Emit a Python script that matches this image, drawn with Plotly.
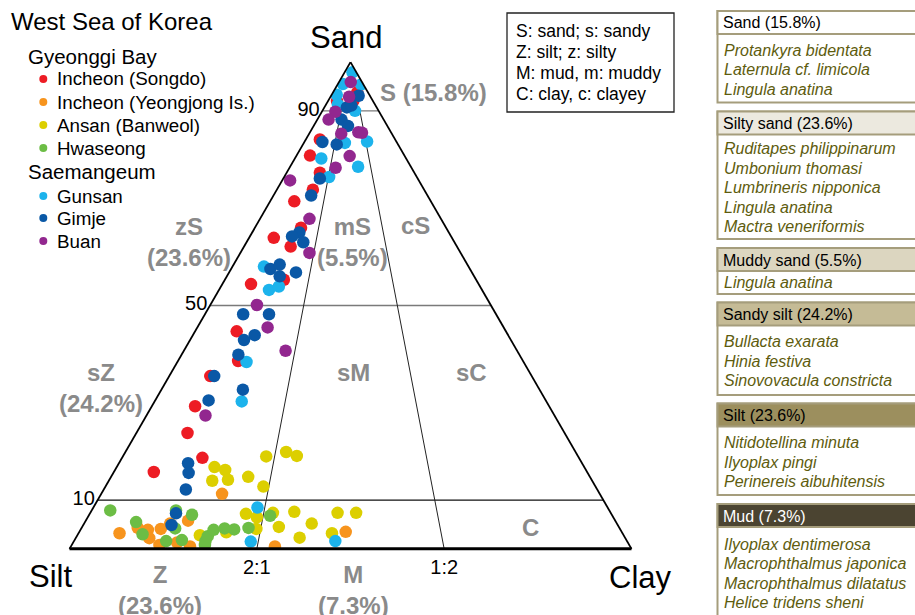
import plotly.graph_objects as go

FIG_W, FIG_H = 915, 615

# ---------------- data: sediment composition (%) ----------------
SITE_NAMES = ["Incheon (Songdo)", "Incheon (Yeongjong Is.)", "Ansan (Banweol)", "Hwaseong",
              "Gunsan", "Gimje", "Buan"]
SITE_COLORS = ["#ed1c24", "#f7941d", "#dccf00", "#6cbd45", "#1cb3ec", "#0a58a6", "#92278f"]
GROUP_NAMES = ["Gyeonggi Bay", "Saemangeum"]
GROUP_SIZES = [4, 3]

songdo_sand = [93.8, 92.0, 92.0, 84.1, 80.8, 77.3, 73.8, 71.4, 66.0, 63.9, 62.1, 55.3, 54.4, 44.7, 38.6, 35.5, 29.3, 23.8, 18.7, 15.8]
songdo_silt = [1.9, 6.4, 3.5, 13.4, 16.8, 16.8, 19.8, 24.3, 25.8, 31.7, 29.6, 34.2, 40.5, 47.9, 50.7, 57.2, 63.0, 67.1, 67.0, 77.1]
songdo_clay = [4.3, 1.6, 4.5, 2.5, 2.4, 5.9, 6.4, 4.3, 8.2, 4.4, 8.3, 10.5, 5.1, 7.4, 10.7, 7.3, 7.7, 9.1, 14.3, 7.1]

yeongjong_sand = [11.3, 3.2, 4.3, 3.9, 2.2, 4.1, 0.8, 5.2, 1.3, 5.8, 0.5, 0.5, 3.5]
yeongjong_silt = [67.2, 89.5, 85.7, 84.1, 84.7, 81.7, 83.6, 79.5, 80.2, 76.0, 78.3, 63.2, 49.1]
yeongjong_clay = [21.5, 7.3, 10.0, 12.0, 13.1, 14.2, 15.6, 15.3, 18.5, 18.2, 21.2, 36.3, 47.4]

ansan_sand = [16.8, 16.2, 14.0, 14.2, 14.8, 12.8, 19.0, 19.9, 19.1, 2.8, 3.4, 7.2, 6.5, 4.1, 7.4, 4.5, 7.6, 2.3, 5.2, 7.4, 7.4, 3.2]
ansan_silt = [65.8, 64.2, 67.6, 64.7, 60.8, 59.1, 55.5, 51.5, 50.0, 75.4, 70.4, 65.0, 63.4, 64.7, 60.1, 60.5, 56.2, 57.9, 54.3, 48.6, 45.3, 51.7]
ansan_clay = [17.4, 19.6, 18.4, 21.1, 24.4, 28.1, 25.5, 28.6, 30.9, 21.8, 26.2, 27.8, 30.1, 31.2, 32.5, 35.0, 36.2, 39.8, 40.5, 44.0, 47.3, 45.1]

hwaseong_sand = [7.9, 5.5, 3.0, 1.6, 7.9, 4.2, 1.8, 7.0, 1.6, 0.8, 2.6, 3.9, 4.2, 4.0, 4.3, 6.8]
hwaseong_silt = [88.8, 85.4, 85.5, 82.0, 77.1, 79.1, 79.1, 74.7, 75.0, 75.5, 74.1, 72.4, 70.3, 68.7, 66.0, 60.9]
hwaseong_clay = [3.3, 9.1, 11.5, 16.4, 15.0, 16.7, 19.1, 18.3, 23.4, 23.7, 23.3, 23.7, 25.5, 27.3, 29.7, 32.3]

gunsan_sand = [97.9, 95.5, 95.4, 93.3, 91.3, 90.0, 83.7, 83.4, 80.2, 78.5, 76.4, 58.0, 53.2, 53.9, 38.4, 30.3, 8.5, 1.5, 1.6]
gunsan_silt = [0.7, 3.6, 0.4, 5.8, 6.6, 4.2, 5.2, 9.3, 15.1, 9.4, 15.6, 36.4, 37.9, 35.8, 49.3, 54.2, 62.3, 67.0, 51.9]
gunsan_clay = [1.4, 0.9, 4.2, 0.9, 2.1, 5.8, 11.1, 7.3, 4.7, 12.1, 8.0, 5.6, 8.9, 10.3, 12.3, 15.5, 29.2, 31.5, 46.5]

gimje_sand = [93.1, 90.7, 91.1, 88.2, 86.9, 83.1, 83.6, 76.1, 72.6, 65.0, 64.2, 63.0, 57.5, 58.4, 56.0, 56.8, 48.2, 48.2, 43.9, 42.9, 39.9, 35.5, 32.7, 30.5, 17.6, 15.6, 12.2, 7.3, 4.9]
gimje_silt = [2.0, 5.3, 4.3, 7.5, 7.0, 10.9, 13.2, 17.4, 20.7, 26.6, 28.3, 26.9, 35.5, 33.4, 34.6, 31.3, 45.0, 40.4, 45.1, 47.5, 50.0, 56.5, 52.8, 60.0, 70.1, 71.0, 73.2, 77.4, 79.4]
gimje_clay = [4.9, 4.0, 4.6, 4.3, 6.1, 6.0, 3.2, 6.5, 6.7, 8.4, 7.5, 10.1, 7.0, 8.2, 9.4, 11.9, 6.8, 11.4, 11.0, 9.6, 10.1, 8.0, 14.5, 9.5, 12.3, 13.4, 14.6, 15.3, 15.7]

buan_sand = [95.9, 92.9, 89.8, 88.2, 85.6, 85.5, 85.3, 80.7, 78.3, 75.7, 67.8, 60.8, 50.1, 45.5, 40.7, 27.4]
buan_silt = [2.0, 3.8, 7.8, 9.8, 5.8, 5.2, 9.0, 9.8, 13.5, 22.9, 23.4, 26.9, 41.6, 42.0, 41.2, 62.1]
buan_clay = [2.1, 3.3, 2.4, 2.0, 8.6, 9.3, 5.7, 9.5, 8.2, 1.4, 8.8, 12.3, 8.3, 12.5, 18.1, 10.5]

SITE_SAND = [songdo_sand, yeongjong_sand, ansan_sand, hwaseong_sand, gunsan_sand, gimje_sand, buan_sand]
SITE_SILT = [songdo_silt, yeongjong_silt, ansan_silt, hwaseong_silt, gunsan_silt, gimje_silt, buan_silt]
SITE_CLAY = [songdo_clay, yeongjong_clay, ansan_clay, hwaseong_clay, gunsan_clay, gimje_clay, buan_clay]

# Folk classification boundaries
SAND_LEVELS = [90, 50, 10]
SAND_TICK_TEXT = ["90", "50", "10"]
RATIO_TEXT = ["2:1", "1:2"]
RATIO_SILT_SHARE = [200 / 3, 100 / 3]   # silt share of the mud fraction (%)

CLASS_LABELS = ["S (15.8%)", "zS<br>(23.6%)", "mS<br>(5.5%)", "cS", "sZ<br>(24.2%)", "sM", "sC", "C",
                "Z<br>(23.6%)", "M<br>(7.3%)"]

ABBREV_LINES = ["S: sand; s: sandy", "Z: silt; z: silty", "M: mud, m: muddy", "C: clay, c: clayey"]

PANEL_TITLES = ["Sand (15.8%)", "Silty sand (23.6%)", "Muddy sand (5.5%)", "Sandy silt (24.2%)",
                "Silt (23.6%)", "Mud (7.3%)"]
PANEL_SPECIES = [
    ["Protankyra bidentata", "Laternula cf. limicola", "Lingula anatina"],
    ["Ruditapes philippinarum", "Umbonium thomasi", "Lumbrineris nipponica", "Lingula anatina",
     "Mactra veneriformis"],
    ["Lingula anatina"],
    ["Bullacta exarata", "Hinia festiva", "Sinovovacula constricta"],
    ["Nitidotellina minuta", "Ilyoplax pingi", "Perinereis aibuhitensis"],
    ["Ilyoplax dentimerosa", "Macrophthalmus japonica", "Macrophthalmus dilatatus", "Helice tridens sheni"],
]

# ---------------- styling / layout constants (window pixels) ----------------
FONT = "Liberation Sans, Arial, sans-serif"
GRAY = "#8a8a8a"
LEVEL_COLORS = ["#7a7a7a", "#7a7a7a", "#111111"]
PANEL_FILLS = ["#ffffff", "#ece9df", "#dcd6c0", "#c5bb96", "#9c8f5e", "#4b4431"]
PANEL_TEXT_COLORS = ["black", "black", "black", "black", "black", "white"]
PANEL_BORDER = "#a59d7c"
SPECIES_COLOR = "#5e5c0e"

PANEL_TOPS = [11, 111.5, 248, 302.5, 403.5, 504]
PANEL_BOTTOMS = [102.5, 239, 294, 395, 495, 640]
PANEL_HEAD_H = 23
PANEL_FIRST_OFF = [16, 14, 11, 16, 16, 17]
PANEL_STEP = 19.6
PANEL_X0, PANEL_X1 = 717.5, 930

CLASS_POS = [(433, 92), (189, 242), (352, 242), (415, 226), (101, 388), (353, 372), (471, 372),
             (530, 527), (160, 590), (353, 590)]

LEG_ROWS = [79, 102, 125, 148, 196, 218, 241]
LEG_GROUP_ROWS = [57, 171]


def px(x):
    return x / FIG_W


def py(y):
    return 1 - y / FIG_H


fig = go.Figure()

# classification lines
for lvl, col in zip(SAND_LEVELS, LEVEL_COLORS):
    fig.add_trace(go.Scatterternary(a=[lvl, lvl], b=[100 - lvl, 0], c=[0, 100 - lvl], mode="lines",
                                    line=dict(color=col, width=1.3), hoverinfo="skip", showlegend=False))
for share in RATIO_SILT_SHARE:
    top = 100 - SAND_LEVELS[0]
    fig.add_trace(go.Scatterternary(a=[SAND_LEVELS[0], 0], b=[top * share / 100, share],
                                    c=[top * (100 - share) / 100, 100 - share], mode="lines",
                                    line=dict(color="#222222", width=1), hoverinfo="skip", showlegend=False))

# samples
for name, col, s, z, c in zip(SITE_NAMES, SITE_COLORS, SITE_SAND, SITE_SILT, SITE_CLAY):
    fig.add_trace(go.Scatterternary(a=s, b=z, c=c, mode="markers", name=name,
                                    marker=dict(size=12.5, color=col, line=dict(width=0)),
                                    showlegend=False))

ann = []
shapes = []


def text(x, y, t, size, color="black", anchor="center", bold=False, italic=False):
    if bold:
        t = "<b>" + t + "</b>"
    if italic:
        t = "<i>" + t + "</i>"
    ann.append(dict(x=px(x), y=py(y), xref="paper", yref="paper", text=t, showarrow=False,
                    xanchor=anchor, yanchor="middle", align=anchor if anchor != "center" else "center",
                    font=dict(family=FONT, size=size, color=color)))


# vertex titles
text(346, 37, "Sand", 31)
text(50, 576, "Silt", 31)
text(640, 577, "Clay", 31)

# class labels
for lab, (x, y) in zip(CLASS_LABELS, CLASS_POS):
    text(x, y, lab, 24, GRAY, bold=True)

# legend (left)
text(9, 22, "West Sea of Korea", 24, anchor="left")
row = 0
for gi, (g, n) in enumerate(zip(GROUP_NAMES, GROUP_SIZES)):
    text(26, LEG_GROUP_ROWS[gi], g, 20.5, anchor="left")
    for k in range(n):
        y = LEG_ROWS[row]
        shapes.append(dict(type="circle", xref="paper", yref="paper", x0=px(39.3), x1=px(47.3),
                           y0=py(y + 4), y1=py(y - 4), fillcolor=SITE_COLORS[row], line=dict(width=0)))
        text(55, y, SITE_NAMES[row], 18.8, anchor="left")
        row += 1

# abbreviation box
shapes.append(dict(type="rect", xref="paper", yref="paper", x0=px(507), x1=px(674), y0=py(112), y1=py(13),
                   line=dict(color="#222222", width=1.3), fillcolor="white"))
for i, t in enumerate(ABBREV_LINES):
    text(514, 31 + i * 21, t, 17.5, anchor="left")

# species panel
for i, (title, species) in enumerate(zip(PANEL_TITLES, PANEL_SPECIES)):
    top, bot = PANEL_TOPS[i], PANEL_BOTTOMS[i]
    shapes.append(dict(type="rect", xref="paper", yref="paper", x0=px(PANEL_X0), x1=px(PANEL_X1),
                       y0=py(bot), y1=py(top), fillcolor="white", line=dict(color=PANEL_BORDER, width=2)))
    shapes.append(dict(type="rect", xref="paper", yref="paper", x0=px(PANEL_X0), x1=px(PANEL_X1),
                       y0=py(top + PANEL_HEAD_H), y1=py(top), fillcolor=PANEL_FILLS[i],
                       line=dict(color=PANEL_BORDER, width=2)))
    text(721, top + 12, title, 16, PANEL_TEXT_COLORS[i], anchor="left")
    for j, sp in enumerate(species):
        text(722, top + PANEL_HEAD_H + PANEL_FIRST_OFF[i] + j * PANEL_STEP, sp, 16, SPECIES_COLOR,
             anchor="left", italic=True)

axis_common = dict(ticks="", showgrid=False, linecolor="black", min=0,
                   tickfont=dict(family=FONT, size=20, color="black"), title=dict(text=""))

# triangle: corners at x 69.5 .. 631.5, centred vertically at y 305.5
fig.update_layout(
    width=FIG_W, height=FIG_H,
    margin=dict(l=0, r=0, t=0, b=0),
    paper_bgcolor="white",
    showlegend=False,
    font=dict(family=FONT),
    ternary=dict(
        sum=100,
        domain=dict(x=[px(69.5), px(631.5)], y=[py(305.5) - 0.41, py(305.5) + 0.41]),
        bgcolor="white",
        aaxis=dict(axis_common, tickmode="array", tickvals=SAND_LEVELS, ticktext=SAND_TICK_TEXT, linewidth=1.8),
        baxis=dict(axis_common, tickmode="array", tickvals=RATIO_SILT_SHARE, ticktext=RATIO_TEXT, linewidth=3),
        caxis=dict(axis_common, showticklabels=False, linewidth=1.8),
    ),
    annotations=ann,
    shapes=shapes,
)

# remove the browser's default page margin so the 915x615 figure fills the window exactly
fig.write_html("out.html", config={"displayModeBar": False},
               post_script="document.body.style.margin='0';document.body.style.overflow='hidden';")
